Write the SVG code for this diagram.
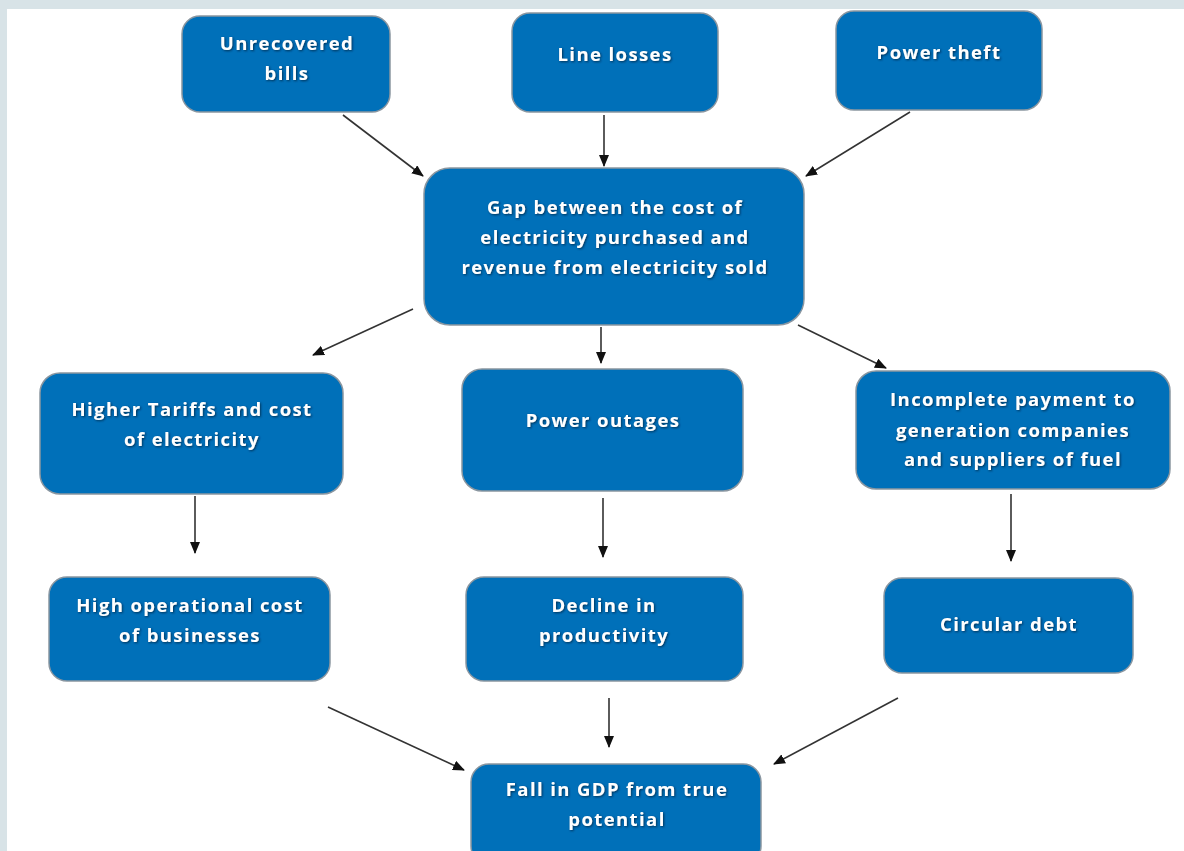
<svg xmlns="http://www.w3.org/2000/svg" width="1184" height="851" viewBox="0 0 1184 851">
<style>
.box{fill:#0070b9;stroke:#8a96a0;stroke-width:1.5}
.t{font-family:"Open Sans","DejaVu Sans",sans-serif;font-weight:700;font-size:18.5px;letter-spacing:1.4px;fill:#ffffff;text-anchor:middle;filter:url(#sh)}
.c{stroke:#333333;stroke-width:1.6;fill:none;marker-end:url(#ah)}
</style>
<defs>
<marker id="ah" viewBox="0 0 12 10" refX="11" refY="5" markerWidth="12" markerHeight="10" markerUnits="userSpaceOnUse" orient="auto">
<path d="M0,0 L12,5 L0,10 Z" fill="#111111"/>
</marker>
<filter id="sh" x="-10%" y="-30%" width="120%" height="160%">
<feDropShadow dx="1" dy="1" stdDeviation="0.8" flood-color="#002040" flood-opacity="0.8"/>
</filter>
</defs>
<rect x="0" y="0" width="1184" height="851" fill="#d8e3e7"/>
<rect x="7" y="9" width="1177" height="842" fill="#ffffff"/>
<g id="n-unrecovered"><rect class="box" x="182" y="16" width="208" height="96" rx="18"/><text class="t" x="287" y="50">Unrecovered</text><text class="t" x="287" y="80">bills</text></g>
<g id="n-lineloss"><rect class="box" x="512" y="13" width="206" height="99" rx="18"/><text class="t" x="615" y="61">Line losses</text></g>
<g id="n-theft"><rect class="box" x="836" y="11" width="206" height="99" rx="18"/><text class="t" x="939" y="59">Power theft</text></g>
<g id="n-gap"><rect class="box" x="424" y="168" width="380" height="157" rx="26"/><text class="t" x="615" y="214">Gap between the cost of</text><text class="t" x="615" y="244">electricity purchased and</text><text class="t" x="615" y="274">revenue from electricity sold</text></g>
<g id="n-tariffs"><rect class="box" x="40" y="373" width="303" height="121" rx="20"/><text class="t" x="192" y="416">Higher Tariffs and cost</text><text class="t" x="192" y="446">of electricity</text></g>
<g id="n-outages"><rect class="box" x="462" y="369" width="281" height="122" rx="20"/><text class="t" x="603" y="427">Power outages</text></g>
<g id="n-incomplete"><rect class="box" x="856" y="371" width="314" height="118" rx="20"/><text class="t" x="1013" y="406">Incomplete payment to</text><text class="t" x="1013" y="437">generation companies</text><text class="t" x="1013" y="466">and suppliers of fuel</text></g>
<g id="n-highop"><rect class="box" x="49" y="577" width="281" height="104" rx="18"/><text class="t" x="190" y="612">High operational cost</text><text class="t" x="190" y="642">of businesses</text></g>
<g id="n-decline"><rect class="box" x="466" y="577" width="277" height="104" rx="18"/><text class="t" x="604" y="612">Decline in</text><text class="t" x="604" y="642">productivity</text></g>
<g id="n-circular"><rect class="box" x="884" y="578" width="249" height="95" rx="18"/><text class="t" x="1009" y="631">Circular debt</text></g>
<g id="n-gdp"><rect class="box" x="471" y="764" width="290" height="100" rx="18"/><text class="t" x="617" y="796">Fall in GDP from true</text><text class="t" x="617" y="826">potential</text></g>
<g id="connectors">
<line class="c" x1="343" y1="115" x2="423" y2="176"/>
<line class="c" x1="604" y1="115" x2="604" y2="166"/>
<line class="c" x1="910" y1="112" x2="806" y2="176"/>
<line class="c" x1="413" y1="309" x2="313" y2="355"/>
<line class="c" x1="601" y1="327" x2="601" y2="363"/>
<line class="c" x1="798" y1="325" x2="886" y2="368"/>
<line class="c" x1="195" y1="496" x2="195" y2="553"/>
<line class="c" x1="603" y1="498" x2="603" y2="557"/>
<line class="c" x1="1011" y1="494" x2="1011" y2="561"/>
<line class="c" x1="328" y1="707" x2="464" y2="770"/>
<line class="c" x1="609" y1="698" x2="609" y2="747"/>
<line class="c" x1="898" y1="698" x2="774" y2="764"/>
</g>
</svg>
